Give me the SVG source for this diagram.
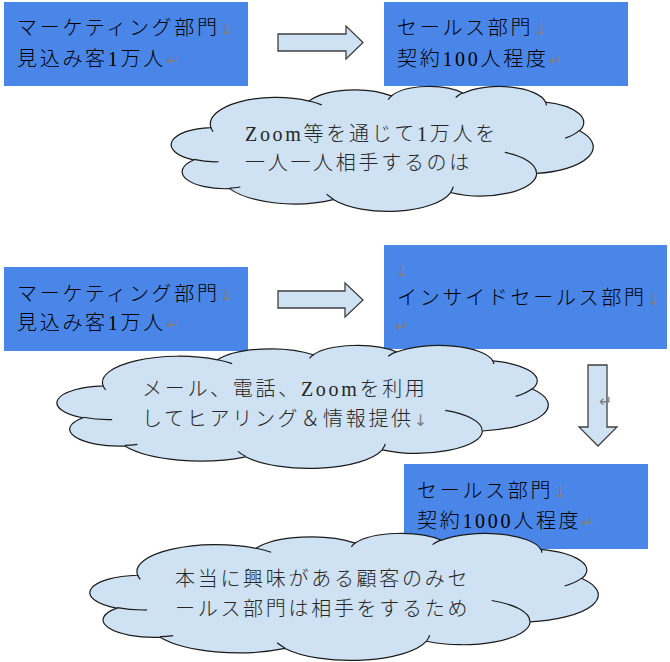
<svg xmlns="http://www.w3.org/2000/svg" xmlns:xlink="http://www.w3.org/1999/xlink" width="670" height="662" viewBox="0 0 670 662">
<style>
.box{fill:#4a86e8}
.t{font-family:"Liberation Serif","Noto Sans CJK JP",serif;font-size:20px;font-weight:300;letter-spacing:2.7px;fill:#000}
.ct{font-family:"Liberation Serif","Noto Sans CJK JP",serif;font-size:20px;font-weight:300;letter-spacing:2.7px;fill:#262626}
.mk{font-family:"DejaVu Sans",sans-serif;font-size:16px;font-weight:400;fill:#7f7f7f;letter-spacing:0}
.arrow{fill:#cfe2f3;stroke:#404040;stroke-width:1.3;stroke-linejoin:miter}
.cl{fill:#cfe2f3;stroke:#1a1a1a;stroke-width:1.2}
.cli{fill:none;stroke:#1a1a1a;stroke-width:1.2}
</style>
<defs>
<path id="cloudOutline" vector-effect="non-scaling-stroke" d="M3900,14370 A6753,9190 0 0,1 14006,5203 A5333,7267 0 0,1 22457,3431 A4365,5945 0 0,1 29833,2480 A4857,6595 0 0,1 38318,5576 A5333,7273 0 0,1 41819,15459 A6775,9220 0 0,1 37405,30203 A5785,7867 0 0,1 28556,36813 A6752,9215 0 0,1 16481,39264 A7720,10543 0 0,1 5812,35468 A4360,5918 0 0,1 2118,25550 A4345,5945 0 0,1 3900,14370 Z"/>
<path id="cloudInner" vector-effect="non-scaling-stroke" d="M4693,26177 A4345,5945 0 0,1 2158,25379 M6928,34899 A4360,5918 0 0,1 5820,35280 M16478,39090 A6752,9215 0 0,1 15810,37349 M28827,34751 A6752,9215 0 0,1 28560,36660 M34129,22954 A5785,7867 0 0,1 37377,30088 M41798,15354 A5333,7273 0 0,1 40348,18032 M38324,5426 A4857,6595 0 0,1 38400,6689 M29078,3952 A4857,6595 0 0,1 29820,2339 M22141,4720 A4365,5945 0 0,1 22500,3329 M14000,5192 A6753,9190 0 0,1 15297,6537 M4127,15789 A6753,9190 0 0,1 3900,14370"/>
</defs>

<g id="marketing1">
<rect class="box" x="4" y="2" width="244" height="84"/>
<text class="t" x="17" y="35">マーケティング部門<tspan class="mk">↓</tspan></text>
<text class="t" x="17" y="66">見込み客1万人<tspan class="mk">↵</tspan></text>
</g>

<g id="sales1">
<rect class="box" x="384" y="2" width="244" height="84"/>
<text class="t" x="397" y="35">セールス部門<tspan class="mk">↓</tspan></text>
<text class="t" x="397" y="66">契約100人程度<tspan class="mk">↵</tspan></text>
</g>

<g id="marketing2">
<rect class="box" x="4" y="267" width="244" height="84"/>
<text class="t" x="17" y="301">マーケティング部門<tspan class="mk">↓</tspan></text>
<text class="t" x="17" y="330">見込み客1万人<tspan class="mk">↵</tspan></text>
</g>

<g id="insidesales">
<rect class="box" x="384" y="245" width="283" height="104"/>
<text class="mk" x="395" y="277">↓</text>
<text class="t" x="397" y="305">インサイドセールス部門<tspan class="mk">↓</tspan></text>
<text class="mk" x="395" y="332">↵</text>
</g>

<g id="sales2">
<rect class="box" x="404" y="464" width="244" height="85"/>
<text class="t" x="417" y="498">セールス部門<tspan class="mk">↓</tspan></text>
<text class="t" x="417" y="528">契約1000人程度<tspan class="mk">↵</tspan></text>
</g>

<g id="connectors">
<polygon class="arrow" points="278,34 346,34 346,26 363,42.5 346,59 346,51 278,51"/>
<polygon class="arrow" points="278,291 345,291 345,283 363,300 345,317 345,308 278,308"/>
<polygon class="arrow" points="588,365 607,365 607,427 617,427 598,446 579,427 588,427"/>
<text class="mk" x="599" y="407">↵</text>
</g>

<g id="cloud1">
<g transform="translate(173,86) scale(0.0097222,0.0028935)">
<use xlink:href="#cloudOutline" class="cl"/>
<use xlink:href="#cloudInner" class="cli"/>
</g>
<text class="ct" x="245" y="141">Zoom等を通じて1万人を</text>
<text class="ct" x="245" y="170">一人一人相手するのは</text>
</g>

<g id="cloud2">
<g transform="translate(59,345) scale(0.0113194,0.0028472)">
<use xlink:href="#cloudOutline" class="cl"/>
<use xlink:href="#cloudInner" class="cli"/>
</g>
<text class="ct" x="142" y="396">メール、電話、Zoomを利用</text>
<text class="ct" x="142" y="426">してヒアリング＆情報提供<tspan class="mk">↓</tspan></text>
</g>

<g id="cloud3">
<g transform="translate(92,533) scale(0.011713,0.0029398)">
<use xlink:href="#cloudOutline" class="cl"/>
<use xlink:href="#cloudInner" class="cli"/>
</g>
<text class="ct" x="175" y="586">本当に興味がある顧客のみセ</text>
<text class="ct" x="175" y="616">ールス部門は相手をするため</text>
</g>
</svg>
